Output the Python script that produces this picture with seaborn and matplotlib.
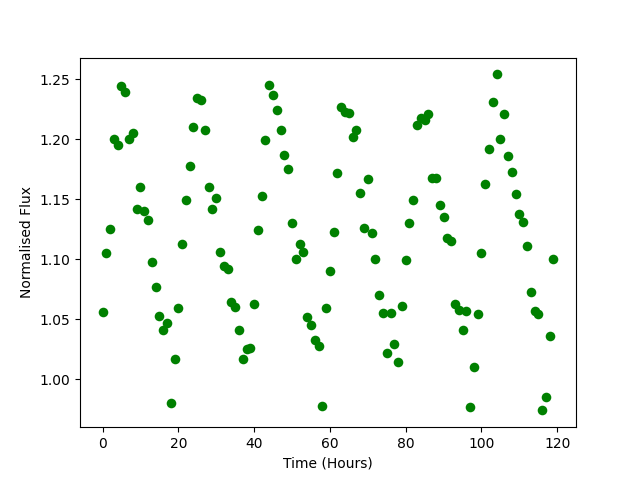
import pandas as pd
import matplotlib
matplotlib.use('Agg')
import matplotlib.pyplot as plt
import seaborn as sns

# hourly normalised flux readings
hours = list(range(120))
flux = [
    1.056, 1.105, 1.125, 1.200, 1.195, 1.244, 1.239, 1.200, 1.205, 1.142,
    1.160, 1.140, 1.133, 1.098, 1.077, 1.053, 1.041, 1.047, 0.980, 1.017,
    1.059, 1.113, 1.149, 1.178, 1.210, 1.234, 1.233, 1.208, 1.160, 1.142,
    1.151, 1.106, 1.094, 1.092, 1.064, 1.060, 1.041, 1.017, 1.025, 1.026,
    1.063, 1.124, 1.153, 1.199, 1.245, 1.237, 1.224, 1.208, 1.187, 1.175,
    1.130, 1.100, 1.113, 1.106, 1.052, 1.045, 1.033, 1.028, 0.978, 1.059,
    1.090, 1.123, 1.172, 1.227, 1.223, 1.222, 1.202, 1.208, 1.155, 1.126,
    1.167, 1.122, 1.100, 1.070, 1.055, 1.022, 1.055, 1.029, 1.014, 1.061,
    1.099, 1.130, 1.149, 1.212, 1.218, 1.216, 1.221, 1.168, 1.168, 1.145,
    1.135, 1.118, 1.115, 1.063, 1.058, 1.041, 1.057, 0.977, 1.010, 1.054,
    1.105, 1.163, 1.192, 1.231, 1.254, 1.200, 1.221, 1.186, 1.173, 1.154,
    1.138, 1.131, 1.111, 1.073, 1.057, 1.054, 0.974, 0.985, 1.036, 1.100,
]

df = pd.DataFrame({'hours': hours, 'flux': flux})

fig, ax = plt.subplots(figsize=(6.4, 4.8), dpi=100)
sns.scatterplot(data=df, x='hours', y='flux', color='green', s=48,
                linewidth=0, ax=ax)
ax.set_xlabel('Time (Hours)')
ax.set_ylabel('Normalised Flux')
plt.savefig('out.png')
